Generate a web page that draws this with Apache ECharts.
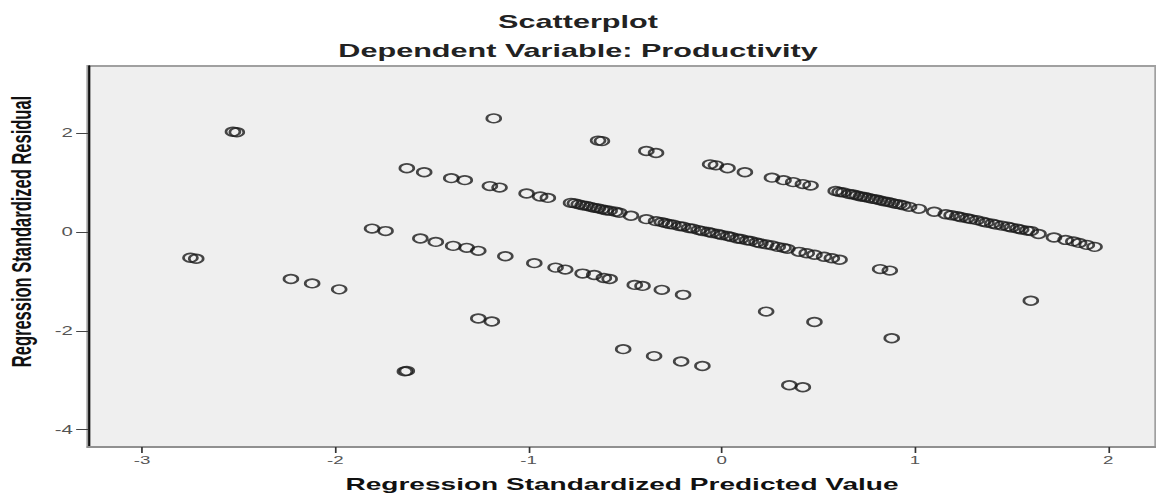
<!DOCTYPE html>
<html><head><meta charset="utf-8">
<script src="https://cdn.jsdelivr.net/npm/echarts@6/dist/echarts.min.js"></script>
<style>
html,body{margin:0;padding:0;background:#fff;overflow:hidden;}
#wrap{width:1156px;height:494px;overflow:hidden;position:relative;}
#chart{width:680px;height:494px;transform:scaleX(1.7);transform-origin:0 0;}
</style></head><body>
<div id="wrap"><div id="chart"></div></div>
<script>
const titleText = 'Scatterplot';
const subtitleText = 'Dependent Variable: Productivity';
const xAxisName = 'Regression Standardized Predicted Value';
const yAxisName = 'Regression Standardized Residual';
const xTickValues = [-3, -2, -1, 0, 1, 2];
const yTickValues = [-4, -2, 0, 2];

// points, grouped by the diagonal band they lie on
const bandA = [[-1.18,2.30],[-0.64,1.85],[-0.62,1.84],[-0.39,1.64],[-0.34,1.60],[-0.06,1.37],[-0.03,1.35],[0.03,1.29],[0.12,1.21],[0.26,1.10],[0.32,1.05],[0.37,1.01],[0.42,0.97],[0.46,0.94],
 [0.59,0.83],[0.61,0.81],[0.63,0.80],[0.66,0.77],[0.68,0.76],[0.70,0.74],[0.72,0.72],[0.74,0.71],[0.76,0.69],[0.78,0.67],[0.80,0.66],[0.82,0.64],[0.84,0.62],[0.86,0.61],[0.88,0.59],[0.90,0.57],[0.92,0.56],[0.94,0.54],[0.97,0.51],
 [1.02,0.47],[1.10,0.41],[1.16,0.36],
 [1.19,0.34],[1.22,0.32],[1.24,0.30],[1.27,0.28],[1.29,0.26],[1.32,0.24],[1.35,0.21],[1.37,0.19],[1.40,0.17],[1.42,0.15],[1.45,0.13],[1.48,0.11],[1.50,0.09],[1.53,0.07],[1.55,0.05],[1.58,0.03],[1.60,0.02],
 [1.64,-0.04],[1.72,-0.11],[1.78,-0.16],[1.82,-0.19],[1.85,-0.22],[1.89,-0.26],[1.93,-0.30]];
const bandB = [[-2.53,2.03],[-2.51,2.02],
 [-1.63,1.29],[-1.54,1.21],[-1.40,1.09],[-1.33,1.05],[-1.20,0.93],[-1.15,0.90],[-1.01,0.78],[-0.94,0.72],[-0.90,0.69],
 [-0.78,0.59],[-0.76,0.58],[-0.74,0.56],[-0.72,0.54],[-0.70,0.53],[-0.68,0.51],[-0.66,0.49],[-0.64,0.48],[-0.62,0.46],[-0.60,0.44],[-0.58,0.43],[-0.55,0.41],[-0.53,0.39],
 [-0.47,0.33],[-0.39,0.26],
 [-0.34,0.22],[-0.31,0.20],[-0.29,0.18],[-0.27,0.16],[-0.25,0.15],[-0.22,0.12],[-0.20,0.11],[-0.17,0.08],[-0.15,0.07],[-0.12,0.04],[-0.10,0.02],[-0.07,0.00],[-0.05,-0.02],[-0.02,-0.04],[0.00,-0.06],[0.03,-0.08],[0.05,-0.10],[0.08,-0.13],[0.10,-0.14],[0.13,-0.17],[0.15,-0.18],[0.18,-0.21],[0.20,-0.23],[0.23,-0.25],[0.26,-0.27],[0.29,-0.30],[0.32,-0.32],[0.34,-0.34],
 [0.40,-0.40],[0.44,-0.43],[0.48,-0.46],[0.53,-0.50],[0.57,-0.53],[0.61,-0.56],
 [0.82,-0.75],[0.87,-0.78],[1.60,-1.39]];
const bandC = [[-1.81,0.07],[-1.74,0.02],[-1.56,-0.13],[-1.48,-0.20],[-1.39,-0.28],[-1.32,-0.32],[-1.26,-0.38],[-1.12,-0.49],[-0.97,-0.63],[-0.86,-0.72],[-0.81,-0.76],[-0.72,-0.84],[-0.66,-0.87],[-0.61,-0.93],[-0.58,-0.95],[-0.45,-1.07],[-0.41,-1.09],[-0.31,-1.17],[-0.20,-1.27],[0.23,-1.61],[0.48,-1.82],[0.88,-2.15]];
const bandD = [[-2.75,-0.52],[-2.72,-0.54],[-2.23,-0.95],[-2.12,-1.04],[-1.98,-1.16],[-1.26,-1.75],[-1.19,-1.81],[-0.51,-2.37],[-0.35,-2.51],[-0.21,-2.62],[-0.10,-2.71],[0.35,-3.10],[0.42,-3.14]];
const bandE = [[-1.64,-2.82],[-1.63,-2.81]];

const font = "'Liberation Sans', Arial, sans-serif";
const markerStyle = { color: 'rgba(0,0,0,0)', borderColor: '#1a1a1a', borderWidth: 1.6 };
const mk = (d) => ({ type: 'scatter', data: d, symbol: 'circle', symbolSize: [8.2, 8.6], itemStyle: markerStyle, silent: true, animation: false });

const chart = echarts.init(document.getElementById('chart'), null, { renderer: 'svg' });
chart.setOption({
  backgroundColor: '#ffffff',
  animation: false,
  title: [
    { text: titleText, left: 'center', top: 13, padding: 0, textStyle: { fontFamily: font, fontWeight: 'bold', fontSize: 18, color: '#222' } },
    { text: subtitleText, left: 'center', top: 42, padding: 0, textStyle: { fontFamily: font, fontWeight: 'bold', fontSize: 18, color: '#222' } }
  ],
  grid: { left: 51.8, right: 0, top: 66, bottom: 47, outerBoundsMode: 'none', containLabel: false, show: true, backgroundColor: '#efefef', borderColor: '#a0a0a0', borderWidth: 2 },
  xAxis: {
    type: 'value', min: -3.28, max: 2.248,
    name: xAxisName, nameLocation: 'middle', nameGap: 29,
    nameTextStyle: { fontFamily: font, fontWeight: 'bold', fontSize: 16.5, color: '#111' },
    axisLine: { show: true, onZero: false, lineStyle: { color: '#909090', width: 2 } },
    axisTick: { show: true, customValues: xTickValues, length: 6, lineStyle: { color: '#333', width: 1 } },
    axisLabel: { customValues: xTickValues, margin: 8, fontFamily: font, fontSize: 11, color: '#555' },
    splitLine: { show: false }
  },
  yAxis: {
    type: 'value', min: -4.35, max: 3.36,
    name: yAxisName, nameLocation: 'middle', nameGap: 31,
    nameTextStyle: { fontFamily: font, fontWeight: 'bold', fontSize: 16.5, color: '#111', padding: [0, 0, 0, 50] },
    axisLine: { show: true, onZero: false, lineStyle: { color: '#111', width: 1.3 } },
    axisTick: { show: true, customValues: yTickValues, length: 7, lineStyle: { color: '#444', width: 1 } },
    axisLabel: { customValues: yTickValues, margin: 9, fontFamily: font, fontSize: 12, color: '#555' },
    splitLine: { show: false }
  },
  series: [mk(bandA), mk(bandB), mk(bandC), mk(bandD), mk(bandE)]
});
</script>
</body></html>
